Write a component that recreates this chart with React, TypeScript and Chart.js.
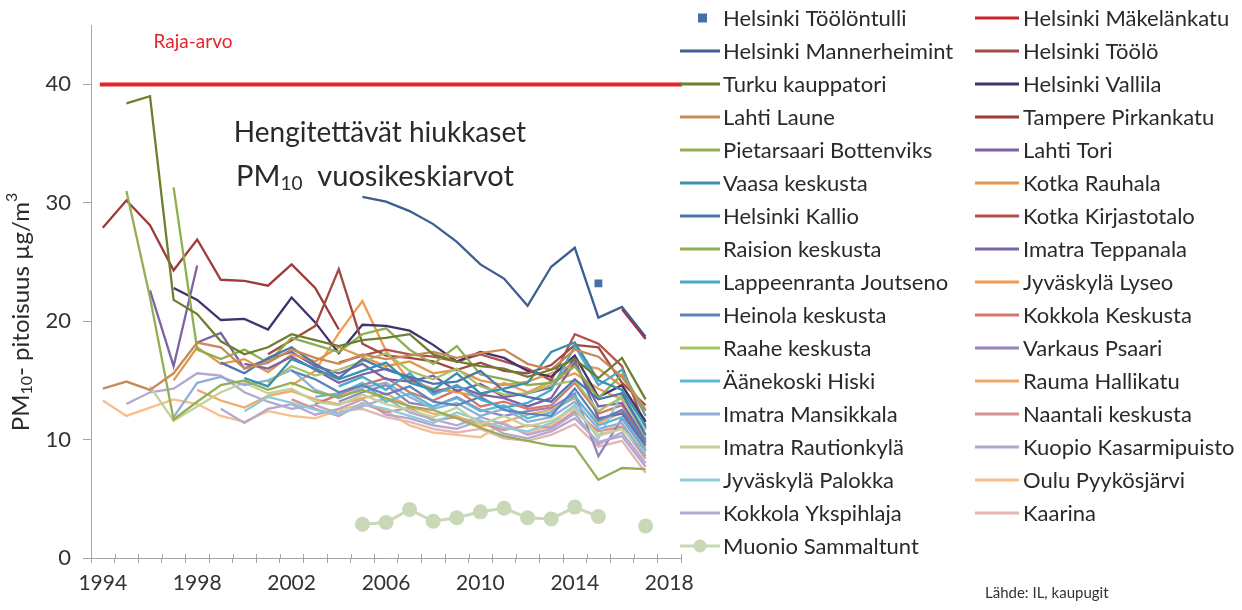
import React, { useEffect, useRef } from 'react';
import { Chart, registerables } from 'chart.js';

Chart.register(...registerables);

const N = null;

// Categories (x axis)
const YEARS = ['1994','1995','1996','1997','1998','1999','2000','2001','2002','2003','2004','2005','2006','2007','2008','2009','2010','2011','2012','2013','2014','2015','2016','2017','2018'];
const LABELED_YEARS = ['1994','1998','2002','2006','2010','2014','2018'];
const Y_TICKS = [0, 10, 20, 30, 40];
const Y_MAX = 45;
const LIMIT_VALUE = 40;
const LIMIT_LABEL = 'Raja-arvo';
const TITLE_LINE_1 = 'Hengitettävät hiukkaset';
const TITLE_LINE_2 = ['PM', '10', '  vuosikeskiarvot'];
const Y_TITLE = ['PM', '10', '- pitoisuus µg/m', '3'];
const SOURCE = 'Lähde: IL, kaupugit';

// Series values 1994..2017 (PM10 annual means, µg/m3)
const helsinkiToolontulli = [N,N,N,N,N,N,N,N,N,N,N,N,N,N,N,N,N,N,N,N,N,23.2,N,N];
const helsinkiMannerheimint = [N,N,N,N,N,N,N,N,N,N,N,30.5,30.1,29.3,28.2,26.7,24.8,23.6,21.3,24.6,26.2,20.3,21.2,18.7];
const turkuKauppatori = [N,38.4,39.0,21.8,20.6,18.3,17.2,17.8,18.9,18.4,17.9,18.4,18.6,18.9,17.2,16.6,16.2,16.0,15.3,15.9,16.8,15.2,16.9,13.4];
const lahtiLaune = [14.3,14.9,14.2,15.6,18.2,17.8,16.0,16.5,17.6,16.9,16.4,17.2,16.8,17.1,17.4,16.9,17.3,17.6,16.4,15.9,17.6,17.0,15.3,12.4];
const pietarsaariBottenviks = [N,31.0,22.0,11.7,13.2,14.6,15.0,14.2,14.8,14.0,13.6,14.2,13.5,12.8,12.5,11.8,11.0,10.3,9.9,9.5,9.4,6.6,7.6,7.5];
const vaasaKeskusta = [N,N,N,N,N,N,15.2,14.5,16.8,16.0,15.1,15.8,16.5,14.8,14.2,15.6,13.9,14.3,14.8,17.4,18.2,15.0,14.2,11.2];
const helsinkiKallio = [N,N,N,N,N,16.5,15.6,16.9,17.8,16.4,15.2,16.8,15.9,15.3,14.7,14.9,15.8,14.1,13.6,13.2,15.1,13.4,13.9,10.4];
const raisionKeskusta = [N,N,N,31.3,17.6,16.8,17.6,16.5,18.6,18.0,17.4,18.9,19.4,17.6,16.4,17.9,15.5,15.1,14.6,14.8,16.2,13.5,15.5,12.5];
const lappeenrantaJoutseno = [N,N,N,N,N,N,N,N,N,N,14.5,15.3,14.2,15.6,13.8,14.6,13.4,12.7,13.1,14.2,17.9,14.6,15.9,12.0];
const heinolaKeskusta = [N,N,N,N,N,N,N,N,15.8,15.1,14.0,14.6,13.8,14.5,13.2,12.9,13.6,12.5,12.2,12.0,14.3,11.6,12.5,9.8];
const raaheKeskusta = [N,N,N,N,N,N,N,14.8,16.2,15.4,15.9,16.6,17.3,15.8,15.1,16.0,14.5,13.8,13.9,14.6,15.0,12.4,13.6,10.2];
const aanekoskiHiski = [N,N,N,N,N,N,N,N,N,13.6,13.9,14.8,13.2,13.9,12.8,13.5,12.4,12.9,11.8,12.3,13.7,11.2,11.9,9.1];
const imatraMansikkala = [N,N,N,11.9,14.8,15.3,14.6,15.0,15.9,14.2,13.5,14.4,14.8,13.6,12.6,13.1,12.0,12.6,11.5,11.9,13.2,10.9,11.4,8.6];
const imatraRautionkyla = [N,N,14.5,11.6,12.8,14.0,14.8,13.9,14.3,13.2,12.9,13.8,13.0,12.5,11.9,12.7,11.3,12.0,11.1,11.6,12.6,10.3,10.9,8.9];
const jyvaskylaPalokka = [N,N,N,N,N,N,12.4,13.6,13.1,12.5,12.1,13.0,12.6,12.0,11.4,12.3,11.6,11.0,10.7,11.4,12.9,10.1,13.9,10.8];
const kokkolaYkspihlaja = [N,13.0,14.0,14.3,15.6,15.4,14.0,13.2,12.6,12.9,12.2,12.8,13.5,12.3,11.7,11.2,11.9,11.3,10.4,10.9,12.2,9.6,10.6,8.0];
const muonioSammaltunt = [N,N,N,N,N,N,N,N,N,N,N,2.85,3.0,4.1,3.1,3.4,3.9,4.2,3.4,3.3,4.3,3.5,N,2.7];
const helsinkiMakelankatu = [N,N,N,N,N,N,N,N,N,N,N,N,N,N,N,N,N,N,N,N,N,N,21.0,18.5];
const helsinkiToolo = [N,N,N,N,N,N,N,17.2,18.4,19.6,24.4,18.1,17.1,16.9,16.6,15.9,16.5,15.8,15.6,16.3,18.0,17.8,14.8,12.9];
const helsinkiVallila = [N,N,N,22.8,21.8,20.1,20.2,19.3,22.0,19.9,17.3,19.7,19.6,19.2,18.0,16.6,17.4,16.9,15.8,15.3,17.1,13.6,14.6,11.5];
const tamperePirkankatu = [27.9,30.2,28.1,24.3,26.9,23.5,23.4,23.0,24.8,22.8,19.3,N,N,N,N,N,N,N,N,N,N,N,N,N];
const lahtiTori = [N,N,22.6,16.2,24.7,N,16.4,16.0,17.0,15.9,14.8,15.5,16.0,15.2,14.0,14.5,13.8,13.5,12.8,13.5,16.5,12.8,13.1,10.0];
const kotkaRauhala = [N,N,N,15.0,17.8,16.4,16.8,15.7,17.2,16.6,17.8,17.0,16.2,16.6,15.6,15.9,15.0,14.6,14.9,15.6,16.4,16.0,14.5,11.6];
const kotkaKirjastotalo = [N,N,N,N,N,N,N,N,N,N,16.5,17.1,17.6,17.2,17.0,16.6,17.2,16.6,16.0,15.0,18.9,18.1,16.2,11.0];
const imatraTeppanala = [N,N,N,N,18.2,19.0,16.0,16.8,17.4,16.2,15.6,16.4,15.1,14.9,15.4,14.1,14.7,13.6,13.9,14.4,16.8,11.8,12.2,9.5];
const jyvaskylaLyseo = [N,N,N,N,N,N,N,N,14.6,15.8,19.0,21.7,17.5,15.0,14.3,14.0,13.6,14.8,14.0,14.9,15.6,14.3,13.4,10.9];
const kokkolaKeskusta = [N,N,N,N,N,N,N,N,N,13.0,13.8,14.6,15.2,14.0,13.3,14.2,12.8,13.2,12.6,12.9,14.8,12.2,12.9,9.7];
const varkausPsaari = [N,N,N,N,N,N,N,N,N,N,13.2,14.0,14.6,13.1,12.8,13.6,12.5,12.0,12.4,12.7,13.9,8.6,11.8,9.0];
const raumaHallikatu = [N,N,N,N,14.2,13.3,12.7,13.7,14.1,13.4,13.0,13.5,13.9,12.8,12.2,12.0,11.1,11.5,12.1,12.5,13.5,11.4,12.3,9.3];
const naantaliKeskusta = [N,N,N,N,N,N,N,N,13.4,12.6,12.0,13.1,12.3,12.7,11.6,11.9,11.4,10.8,11.2,11.0,12.4,10.7,11.1,8.4];
const kuopioKasarmipuisto = [N,N,N,N,N,12.6,11.4,12.6,13.0,12.1,12.6,13.4,12.1,11.8,11.2,10.9,11.6,10.5,10.1,10.7,11.8,9.8,10.3,7.7];
const ouluPyykosjarvi = [13.3,12.0,12.7,13.4,13.0,12.0,11.5,12.4,12.0,11.8,12.5,13.0,12.4,11.2,10.6,10.4,10.2,11.4,10.5,11.2,12.8,10.4,11.0,8.8];
const kaarina = [N,N,N,N,N,N,N,N,N,N,12.4,12.6,11.9,11.5,10.9,10.6,10.9,10.1,9.9,10.4,11.3,9.4,9.9,7.2];

type Kind = 'line' | 'square' | 'dots';
interface SeriesDef { label: string; data: (number | null)[]; color: string; kind: Kind }

const LEFT_COLUMN: SeriesDef[] = [
  { label: 'Helsinki Töölöntulli', data: helsinkiToolontulli, color: '#4570A9', kind: 'square' },
  { label: 'Helsinki Mannerheimint', data: helsinkiMannerheimint, color: '#3D5E92', kind: 'line' },
  { label: 'Turku kauppatori', data: turkuKauppatori, color: '#6E7E2F', kind: 'line' },
  { label: 'Lahti Laune', data: lahtiLaune, color: '#C88B57', kind: 'line' },
  { label: 'Pietarsaari Bottenviks', data: pietarsaariBottenviks, color: '#93AE55', kind: 'line' },
  { label: 'Vaasa keskusta', data: vaasaKeskusta, color: '#3A91AE', kind: 'line' },
  { label: 'Helsinki Kallio', data: helsinkiKallio, color: '#4A76B0', kind: 'line' },
  { label: 'Raision keskusta', data: raisionKeskusta, color: '#8DB04F', kind: 'line' },
  { label: 'Lappeenranta Joutseno', data: lappeenrantaJoutseno, color: '#4AAAC4', kind: 'line' },
  { label: 'Heinola keskusta', data: heinolaKeskusta, color: '#5A84BE', kind: 'line' },
  { label: 'Raahe keskusta', data: raaheKeskusta, color: '#A6C26A', kind: 'line' },
  { label: 'Äänekoski Hiski', data: aanekoskiHiski, color: '#5DBAD2', kind: 'line' },
  { label: 'Imatra Mansikkala', data: imatraMansikkala, color: '#92AED6', kind: 'line' },
  { label: 'Imatra Rautionkylä', data: imatraRautionkyla, color: '#BFD39A', kind: 'line' },
  { label: 'Jyväskylä Palokka', data: jyvaskylaPalokka, color: '#8ECBDA', kind: 'line' },
  { label: 'Kokkola Ykspihlaja', data: kokkolaYkspihlaja, color: '#B3A8CF', kind: 'line' },
  { label: 'Muonio Sammaltunt', data: muonioSammaltunt, color: '#C9D8B6', kind: 'dots' },
];

const RIGHT_COLUMN: SeriesDef[] = [
  { label: 'Helsinki Mäkelänkatu', data: helsinkiMakelankatu, color: '#C8222B', kind: 'line' },
  { label: 'Helsinki Töölö', data: helsinkiToolo, color: '#A04A44', kind: 'line' },
  { label: 'Helsinki Vallila', data: helsinkiVallila, color: '#41336E', kind: 'line' },
  { label: 'Tampere Pirkankatu', data: tamperePirkankatu, color: '#9E3B3B', kind: 'line' },
  { label: 'Lahti Tori', data: lahtiTori, color: '#7E62A6', kind: 'line' },
  { label: 'Kotka Rauhala', data: kotkaRauhala, color: '#E1974C', kind: 'line' },
  { label: 'Kotka Kirjastotalo', data: kotkaKirjastotalo, color: '#B5504C', kind: 'line' },
  { label: 'Imatra Teppanala', data: imatraTeppanala, color: '#7A64A8', kind: 'line' },
  { label: 'Jyväskylä Lyseo', data: jyvaskylaLyseo, color: '#F29A52', kind: 'line' },
  { label: 'Kokkola Keskusta', data: kokkolaKeskusta, color: '#D4766C', kind: 'line' },
  { label: 'Varkaus Psaari', data: varkausPsaari, color: '#9682BE', kind: 'line' },
  { label: 'Rauma Hallikatu', data: raumaHallikatu, color: '#F3A868', kind: 'line' },
  { label: 'Naantali keskusta', data: naantaliKeskusta, color: '#D6928F', kind: 'line' },
  { label: 'Kuopio Kasarmipuisto', data: kuopioKasarmipuisto, color: '#B4A6CE', kind: 'line' },
  { label: 'Oulu Pyykösjärvi', data: ouluPyykosjarvi, color: '#F8BE8E', kind: 'line' },
  { label: 'Kaarina', data: kaarina, color: '#E3B5B4', kind: 'line' },
];

const ALL_SERIES = [...LEFT_COLUMN, ...RIGHT_COLUMN];
const FONT = 'Lato, "Open Sans", sans-serif';
const TEXT_COLOR = '#2a2a2a';
const AXIS_COLOR = '#A6A6A6';

function drawParts(ctx: CanvasRenderingContext2D, parts: { t: string; size: number; dy: number }[], cx: number, cy: number) {
  let total = 0;
  for (const p of parts) { ctx.font = `${p.size}px ${FONT}`; total += ctx.measureText(p.t).width; }
  let x = cx - total / 2;
  for (const p of parts) {
    ctx.font = `${p.size}px ${FONT}`;
    ctx.fillText(p.t, x, cy + p.dy);
    x += ctx.measureText(p.t).width;
  }
}

const overlayPlugin = {
  id: 'overlay',
  beforeDatasetsDraw(chart: any) {
    const { ctx, chartArea, scales } = chart;
    const y = scales.y.getPixelForValue(LIMIT_VALUE);
    const x0 = scales.x.getPixelForValue(0) - 3;
    ctx.save();
    ctx.strokeStyle = '#E8232A';
    ctx.lineWidth = 4;
    ctx.beginPath();
    ctx.moveTo(x0, y);
    ctx.lineTo(chartArea.right + 1, y);
    ctx.stroke();
    // x tick marks crossing above the axis line
    ctx.strokeStyle = AXIS_COLOR;
    ctx.lineWidth = 1;
    for (let i = 0; i <= YEARS.length; i++) {
      const xb = Math.round(scales.x.getPixelForValue(i - 0.5)) + 0.5;
      ctx.beginPath();
      ctx.moveTo(xb, chartArea.bottom - 4);
      ctx.lineTo(xb, chartArea.bottom);
      ctx.stroke();
    }
    ctx.restore();
  },
  afterDraw(chart: any) {
    const { ctx } = chart;
    ctx.save();
    ctx.textBaseline = 'middle';
    ctx.textAlign = 'left';

    // limit label
    ctx.fillStyle = '#E8232A';
    drawParts(ctx, [{ t: LIMIT_LABEL, size: 19, dy: 0 }], 193, 42);

    // title
    ctx.fillStyle = TEXT_COLOR;
    drawParts(ctx, [{ t: TITLE_LINE_1, size: 28, dy: 0 }], 380, 133);
    drawParts(ctx, [
      { t: TITLE_LINE_2[0], size: 29, dy: 0 },
      { t: TITLE_LINE_2[1], size: 19, dy: 7 },
      { t: TITLE_LINE_2[2], size: 29, dy: 0 },
    ], 375, 177);

    // y title, rotated
    ctx.save();
    ctx.translate(21, 312);
    ctx.rotate(-Math.PI / 2);
    drawParts(ctx, [
      { t: Y_TITLE[0], size: 24, dy: 0 },
      { t: Y_TITLE[1], size: 16, dy: 6 },
      { t: Y_TITLE[2], size: 24, dy: 0 },
      { t: Y_TITLE[3], size: 16, dy: -9 },
    ], 0, 0);
    ctx.restore();

    // source
    ctx.fillStyle = '#333';
    ctx.font = `15px ${FONT}`;
    ctx.fillText(SOURCE, 985, 593);

    // legend (two columns)
    const colX = [[680, 720, 723], [975, 1019, 1023]];
    chart.data.datasets.forEach((ds: any, i: number) => {
      const col = i < LEFT_COLUMN.length ? 0 : 1;
      const row = col === 0 ? i : i - LEFT_COLUMN.length;
      const y = 18 + row * 33;
      const [x0, x1, tx] = colX[col];
      const def = ALL_SERIES[i];
      ctx.strokeStyle = def.color;
      ctx.fillStyle = def.color;
      if (def.kind === 'square') {
        ctx.fillRect(698, y - 4.5, 9, 9);
      } else {
        ctx.lineWidth = 3;
        ctx.beginPath();
        ctx.moveTo(x0, y);
        ctx.lineTo(x1, y);
        ctx.stroke();
        if (def.kind === 'dots') {
          ctx.beginPath();
          ctx.arc((x0 + x1) / 2, y, 6.5, 0, Math.PI * 2);
          ctx.fill();
        }
      }
      ctx.fillStyle = TEXT_COLOR;
      ctx.font = `22px ${FONT}`;
      ctx.fillText(ds.label, tx, y + 1);
    });
    ctx.restore();
  },
};

export default function App() {
  const ref = useRef<HTMLCanvasElement>(null);
  useEffect(() => {
    if (!ref.current) return;
    const datasets = ALL_SERIES.map((s) => {
      const base: any = {
        label: s.label,
        data: s.data,
        borderColor: s.color,
        backgroundColor: s.color,
        borderWidth: 2.3,
        pointRadius: 0,
        pointHoverRadius: 0,
        spanGaps: false,
        tension: 0,
      };
      if (s.kind === 'square') {
        base.showLine = false;
        base.pointStyle = 'rect';
        base.pointRadius = 5.5;
        base.pointBorderWidth = 0;
      }
      if (s.kind === 'dots') {
        base.pointStyle = 'circle';
        base.pointRadius = 7.5;
        base.pointBorderWidth = 0;
        base.borderWidth = 3;
      }
      return base;
    });
    const chart = new Chart(ref.current, {
      type: 'line',
      data: { labels: YEARS, datasets },
      options: {
        animation: false,
        responsive: false,
        devicePixelRatio: 1,
        layout: { padding: { left: 0, top: 9, right: 561, bottom: 0 } },
        plugins: { legend: { display: false }, tooltip: { enabled: false } },
        scales: {
          x: {
            type: 'category',
            offset: true,
            grid: { display: true, drawOnChartArea: false, offset: true, tickLength: 5, color: AXIS_COLOR },
            border: { color: AXIS_COLOR, width: 1 },
            ticks: {
              autoSkip: false,
              maxRotation: 0,
              padding: 8,
              color: '#333',
              font: { family: FONT, size: 21 },
              callback: (_v: any, i: number) => (LABELED_YEARS.includes(YEARS[i]) ? YEARS[i] : ''),
            },
            afterFit: (s: any) => { s.height = 52; },
          },
          y: {
            min: 0,
            max: Y_MAX,
            grid: { display: true, drawOnChartArea: false, tickLength: 8, color: AXIS_COLOR },
            border: { color: AXIS_COLOR, width: 1 },
            ticks: { padding: 12, color: '#333', font: { family: FONT, size: 22 } },
            afterBuildTicks: (s: any) => { s.ticks = Y_TICKS.map((v) => ({ value: v })); },
            afterFit: (s: any) => { s.width = 91; },
          },
        },
      } as any,
      plugins: [overlayPlugin],
    });
    return () => chart.destroy();
  }, []);
  return (
    <div style={{ position: 'fixed', left: 0, top: 0, width: 1242, height: 610, background: '#fff' }}>
      <canvas ref={ref} width={1242} height={610} />
    </div>
  );
}
